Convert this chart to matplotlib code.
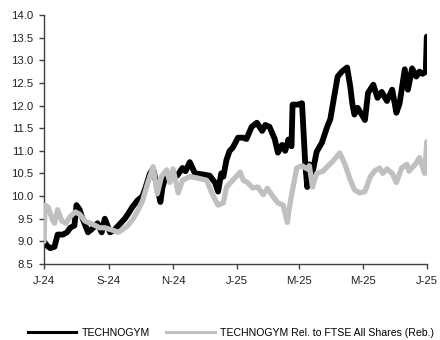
import matplotlib
matplotlib.use("Agg")
import matplotlib.pyplot as plt
from matplotlib.lines import Line2D
import pandas as pd

plt.rcParams['font.family'] = ['Liberation Sans', 'DejaVu Sans']

start_date = "2024-07-01"

# TECHNOGYM (days since start, price)
black_days = [0, 3, 6, 10, 13, 18, 22, 25, 29, 31, 34, 36, 42, 47, 51, 55, 58, 63, 67, 71,
              77, 80, 84, 89, 94, 97, 101, 104, 108, 111, 113, 117, 122, 127, 132, 135, 139,
              144, 151, 158, 163, 166, 169, 171, 174, 177, 180, 185, 190, 193, 198, 203, 208,
              211, 215, 220, 223, 227, 230, 233, 236, 237, 242, 246, 249, 251, 253, 256, 260,
              265, 270, 273, 277, 280, 284, 289, 292, 294, 296, 299, 303, 306, 309, 314, 318,
              322, 327, 332, 336, 339, 344, 347, 351, 355, 358, 361, 364, 365]
black_vals = [9.0, 8.9, 8.85, 8.88, 9.15, 9.15, 9.2, 9.3, 9.35, 9.8, 9.7, 9.55, 9.2, 9.3, 9.4,
              9.2, 9.5, 9.2, 9.25, 9.35, 9.5, 9.6, 9.75, 9.9, 10.0, 10.2, 10.5, 10.6, 10.2, 9.87,
              10.2, 10.5, 10.45, 10.45, 10.62, 10.55, 10.75, 10.5, 10.48, 10.45, 10.3, 10.1,
              10.5, 10.43, 10.8, 11.0, 11.07, 11.29, 11.29, 11.26, 11.53, 11.62, 11.44, 11.57,
              11.53, 11.26, 10.96, 11.13, 11.0, 11.25, 11.1, 12.02, 12.02, 12.05, 10.76, 10.2,
              10.7, 10.52, 10.98, 11.18, 11.53, 11.7, 12.24, 12.64, 12.75, 12.84, 12.42, 12.04,
              11.8, 11.95, 11.8, 11.68, 12.28, 12.46, 12.17, 12.3, 12.1, 12.35, 11.84, 12.04,
              12.8, 12.35, 12.82, 12.64, 12.75, 12.7, 12.75, 13.52]

# TECHNOGYM relative to FTSE All Shares (rebased)
grey_days = [0, 1, 4, 8, 10, 13, 17, 21, 25, 30, 34, 39, 44, 49, 53, 58, 65, 71, 74, 80, 85,
             90, 94, 99, 104, 108, 112, 117, 120, 123, 128, 132, 139, 146, 155, 160, 166, 171,
             174, 180, 187, 190, 194, 199, 204, 209, 213, 218, 223, 228, 232, 234, 237, 241,
             246, 251, 253, 256, 260, 266, 271, 275, 282, 287, 292, 296, 301, 306, 311, 315,
             320, 323, 327, 332, 336, 341, 346, 348, 354, 358, 363, 365]
grey_vals = [9.0, 9.8, 9.75, 9.48, 9.4, 9.7, 9.45, 9.4, 9.55, 9.65, 9.6, 9.45, 9.4, 9.35, 9.3,
             9.3, 9.25, 9.2, 9.25, 9.35, 9.5, 9.7, 9.9, 10.3, 10.65, 10.05, 10.43, 10.58, 10.3,
             10.6, 10.07, 10.35, 10.43, 10.4, 10.35, 10.07, 9.8, 9.85, 10.2, 10.35, 10.53,
             10.35, 10.3, 10.18, 10.2, 10.03, 10.17, 10.0, 9.85, 9.8, 9.42, 9.75, 10.14, 10.62,
             10.67, 10.6, 10.67, 10.2, 10.5, 10.55, 10.67, 10.76, 10.95, 10.7, 10.36, 10.14,
             10.07, 10.1, 10.42, 10.55, 10.62, 10.5, 10.6, 10.5, 10.3, 10.62, 10.7, 10.55, 10.7,
             10.85, 10.5, 11.2]

series_names = ["TECHNOGYM", "TECHNOGYM Rel. to FTSE All Shares (Reb.)"]
tick_dates = ["2024-07-01", "2024-09-01", "2024-11-01", "2025-01-01", "2025-03-01",
              "2025-05-01", "2025-07-01"]
tick_labels = ["J-24", "S-24", "N-24", "J-25", "M-25", "M-25", "J-25"]
y_ticks = [8.5, 9.0, 9.5, 10.0, 10.5, 11.0, 11.5, 12.0, 12.5, 13.0, 13.5, 14.0]

t0 = pd.Timestamp(start_date)
bx = t0 + pd.to_timedelta(black_days, unit="D")
gx = t0 + pd.to_timedelta(grey_days, unit="D")

fig = plt.figure(figsize=(4.4, 3.4), dpi=100)
ax = fig.add_axes([0.1, 0.2235, 0.87, 0.7325])

ax.plot(bx, black_vals, color="#000000", lw=4.2, solid_joinstyle="round",
        solid_capstyle="round", zorder=2)
ax.plot(gx, grey_vals, color="#C0C0C0", lw=3.8, solid_joinstyle="round",
        solid_capstyle="round", zorder=3)

ax.set_ylim(8.5, 14.0)
ax.set_yticks(y_ticks)
ax.set_yticklabels([f"{v:.1f}" for v in y_ticks])
ax.set_xlim(pd.Timestamp(tick_dates[0]), pd.Timestamp(tick_dates[-1]))
ax.set_xticks([pd.Timestamp(d) for d in tick_dates])
ax.set_xticklabels(tick_labels)

for s in ["top", "right"]:
    ax.spines[s].set_visible(False)
for s in ["left", "bottom"]:
    ax.spines[s].set_color("#404040")
    ax.spines[s].set_linewidth(1.0)
ax.tick_params(axis="both", direction="out", length=3.5, width=1.0, color="#404040",
               labelsize=8.2, labelcolor="#222222")
ax.tick_params(axis="y", pad=4)
ax.tick_params(axis="x", pad=5)
ax.patch.set_alpha(0)

handles = [Line2D([0], [0], color="#000000", lw=2.2),
           Line2D([0], [0], color="#C0C0C0", lw=2.2)]
fig.legend(handles, series_names, loc="center", bbox_to_anchor=(0.525, 0.022), ncol=2,
           frameon=False, fontsize=7.6, handlelength=4.6, handletextpad=0.55,
           columnspacing=1.5, borderpad=0, borderaxespad=0)

fig.savefig("out.png", dpi=100)
